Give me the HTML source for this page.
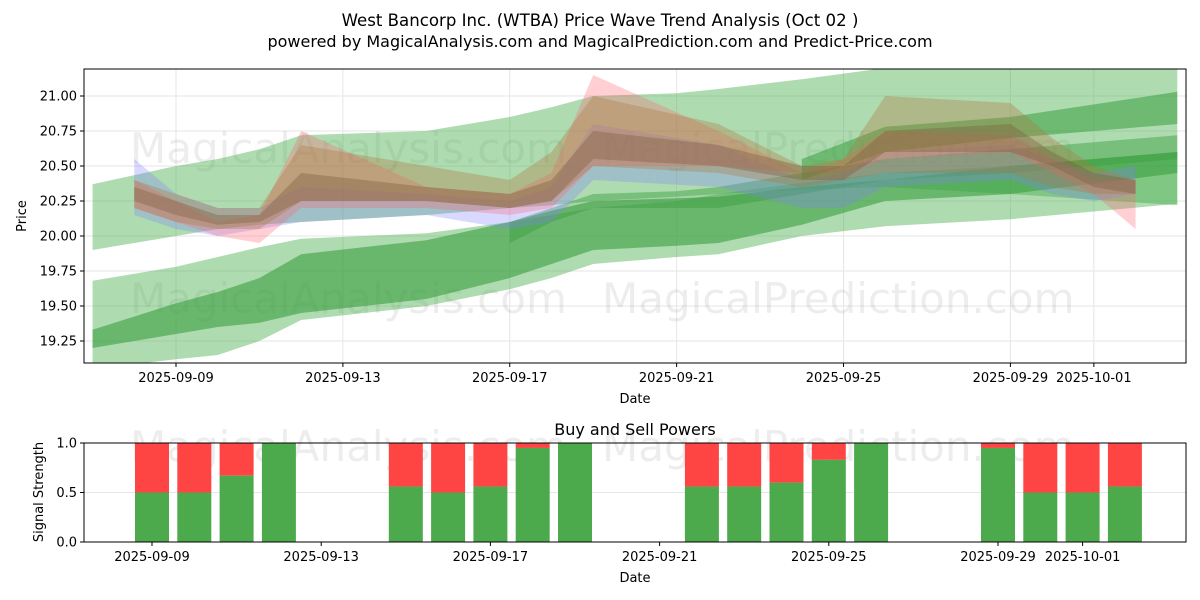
<!DOCTYPE html>
<html><head><meta charset="utf-8"><style>
body{margin:0;background:#fff}
svg{display:block;font-family:"DejaVu Sans","Liberation Sans",sans-serif}
</style></head><body>
<svg id="c" width="1200" height="600"></svg>
<script>
const bandDays=[-2,0,1,2,3,6,8,9,10,12,13,15,17,20,24];
const greenA_up=[20.37,20.5,20.55,20.62,20.72,20.75,20.85,20.92,21.0,21.02,21.05,21.12,21.2,21.22,21.22];
const greenA_lo=[19.9,20.0,20.05,20.08,20.1,20.15,20.2,20.22,20.25,20.28,20.3,20.33,20.35,20.3,20.22];
const greenD_up=[19.68,19.78,19.85,19.92,19.98,20.02,20.1,20.15,20.2,20.25,20.3,20.38,20.45,20.5,20.6];
const greenD_lo=[19.05,19.12,19.15,19.25,19.4,19.5,19.62,19.7,19.8,19.85,19.87,20.0,20.07,20.12,20.23];
const greenE_up=[19.33,19.52,19.6,19.7,19.87,19.97,20.1,20.18,20.25,20.27,20.28,20.35,20.4,20.5,20.6];
const greenE_lo=[19.2,19.3,19.35,19.38,19.45,19.55,19.7,19.8,19.9,19.93,19.95,20.08,20.25,20.3,20.45];
const greenC_up=[null,null,null,null,null,null,20.1,20.2,20.3,20.32,20.35,20.45,20.55,20.62,20.72];
const greenC_lo=[null,null,null,null,null,null,19.95,20.1,20.2,20.2,20.2,20.3,20.4,20.45,20.55];
const greenB_up=[null,null,null,null,null,null,null,null,null,null,null,20.55,20.78,20.85,21.03];
const greenB_lo=[null,null,null,null,null,null,null,null,null,null,null,20.4,20.6,20.7,20.8];
const trendDays=[-1,0,1,2,3,6,8,9,10,13,15,16,17,20,21,22,23];
const pink_up=[20.4,20.25,20.1,20.15,20.75,20.35,20.3,20.45,21.15,20.75,20.45,20.55,20.75,20.72,20.55,20.4,20.4];
const pink_lo=[20.2,20.1,20.0,19.95,20.2,20.2,20.15,20.2,20.5,20.5,20.45,20.45,20.55,20.6,20.45,20.3,20.05];
const blue_up=[20.55,20.3,20.2,20.2,20.35,20.3,20.25,20.35,20.8,20.65,20.4,20.45,20.6,20.65,20.55,20.45,20.5];
const blue_lo=[20.15,20.05,20.0,20.05,20.1,20.15,20.05,20.1,20.4,20.35,20.2,20.2,20.35,20.4,20.3,20.25,20.3];
const brown_up=[20.4,20.3,20.2,20.2,20.65,20.5,20.4,20.6,21.0,20.8,20.5,20.55,21.0,20.95,20.7,20.5,20.4];
const brown_lo=[20.2,20.1,20.05,20.05,20.25,20.25,20.2,20.25,20.5,20.45,20.35,20.4,20.45,20.45,20.35,20.3,20.3];
const olive_up=[20.35,20.25,20.15,20.15,20.45,20.35,20.3,20.4,20.75,20.65,20.5,20.5,20.75,20.8,20.6,20.45,20.4];
const olive_lo=[20.25,20.15,20.08,20.1,20.25,20.25,20.2,20.25,20.55,20.5,20.4,20.4,20.6,20.6,20.5,20.35,20.3];
const yTicks=[19.25,19.5,19.75,20.0,20.25,20.5,20.75,21.0];
const xTickDays=[0,4,8,12,16,20,22];
const xTickLabels=["2025-09-09","2025-09-13","2025-09-17","2025-09-21","2025-09-25","2025-09-29","2025-10-01"];
const barDays=[0,1,2,3,6,7,8,9,10,13,14,15,16,17,20,21,22,23];
const buyVals=[0.5,0.5,0.67,1.0,0.56,0.5,0.56,0.95,1.0,0.56,0.56,0.6,0.83,1.0,0.95,0.5,0.5,0.56];
const sigTicks=[0.0,0.5,1.0];

const NS="http://www.w3.org/2000/svg";
const svg=document.getElementById('c');
function el(t,a,p){const e=document.createElementNS(NS,t);for(const k in a)e.setAttribute(k,a[k]);(p||svg).appendChild(e);return e;}
function txt(s,a,p){const e=el('text',a,p);e.textContent=s;return e;}
const X=d=>176+41.72*d;
const X2=d=>152+42.3*d;
const Y=v=>236-(v-20)*140;
const Y2=v=>542-v*99;
const L=84,R=1186,T=69,B=363,T2=443,B2=542;

let t=txt("West Bancorp Inc. (WTBA) Price Wave Trend Analysis (Oct 02 )",{x:600,y:26,'text-anchor':'middle','font-size':16.6});

t=txt("powered by MagicalAnalysis.com and MagicalPrediction.com and Predict-Price.com",{x:600,y:47,'text-anchor':'middle','font-size':16});


const defs=el('defs',{});
const cp=el('clipPath',{id:'cl'},defs);el('rect',{x:L,y:T,width:R-L,height:B-T},cp);

const g1=el('g',{});

yTicks.forEach(v=>el('line',{x1:L,x2:R,y1:Y(v),y2:Y(v),stroke:'#e6e6e6','stroke-width':1},g1));
xTickDays.forEach(d=>el('line',{x1:X(d),x2:X(d),y1:T,y2:B,stroke:'#e6e6e6','stroke-width':1},g1));
const g2=el('g',{});

el('line',{x1:L,x2:R,y1:Y2(0.5),y2:Y2(0.5),stroke:'#e6e6e6','stroke-width':1},g2);

[["MagicalAnalysis.com",130,163,'top'],["MagicalPrediction.com",602,163,'top'],["MagicalAnalysis.com",130,313,'mid'],["MagicalPrediction.com",602,313,'mid'],["MagicalAnalysis.com",130,461,'bottom'],["MagicalPrediction.com",602,461,'bottom']].forEach(w=>{
 const e=txt(w[0],{x:w[1],y:w[2],'font-size':42,fill:'#000','fill-opacity':0.07});
 
});

const plot=el('g',{'clip-path':'url(#cl)'});

function band(ds,up,lo,fill,op,name){
 const pts=[],back=[];
 ds.forEach((d,i)=>{if(up[i]!=null){pts.push(X(d)+','+Y(up[i]));back.unshift(X(d)+','+Y(lo[i]));}});
 const p=el('polygon',{points:pts.concat(back).join(' '),fill:fill,'fill-opacity':op},plot);
 
}
band(bandDays,greenA_up,greenA_lo,'#4caf50',0.45,'green-band-upper-wide');
band(bandDays,greenD_up,greenD_lo,'#4caf50',0.45,'green-band-lower-wide');
band(bandDays,greenE_up,greenE_lo,'#3a9e3f',0.6,'green-band-lower-dark');
band(bandDays,greenC_up,greenC_lo,'#3a9e3f',0.45,'green-band-middle-dark');
band(bandDays,greenB_up,greenB_lo,'#3a9e3f',0.55,'green-band-upper-dark');
band(trendDays,blue_up,blue_lo,'#8080ff',0.3,'blue-trend-band');
band(trendDays,pink_up,pink_lo,'#ff6070',0.3,'pink-trend-band');
band(trendDays,brown_up,brown_lo,'#b07840',0.35,'brown-trend-band');
band(trendDays,olive_up,olive_lo,'#806040',0.4,'olive-trend-band');

let f=el('rect',{x:L,y:T,width:R-L,height:B-T,fill:'none',stroke:'#000','stroke-width':1});

const ax=el('g',{'font-size':13});

yTicks.forEach(v=>{el('line',{x1:L-4,x2:L,y1:Y(v),y2:Y(v),stroke:'#000'},ax);txt(v.toFixed(2),{x:L-7,y:Y(v)+4.5,'text-anchor':'end'},ax);});
xTickDays.forEach((d,i)=>{el('line',{x1:X(d),x2:X(d),y1:B,y2:B+4,stroke:'#000'},ax);txt(xTickLabels[i],{x:X(d),y:B+19,'text-anchor':'middle'},ax);});
t=txt("Date",{x:635,y:403,'text-anchor':'middle','font-size':13});
t=txt("Price",{x:26,y:216,'text-anchor':'middle','font-size':13,transform:'rotate(-90 26 216)'});

t=txt("Buy and Sell Powers",{x:635,y:435,'text-anchor':'middle','font-size':16});
const bars=el('g',{});

barDays.forEach((d,i)=>{
 const x=X2(d)-17,b=buyVals[i];
 const s=el('rect',{x:x,y:Y2(1),width:34,height:Y2(b)-Y2(1),fill:'#ff4444'},bars);
 
 const g=el('rect',{x:x,y:Y2(b),width:34,height:Y2(0)-Y2(b),fill:'#4caa4c'},bars);
 
});
f=el('rect',{x:L,y:T2,width:R-L,height:B2-T2,fill:'none',stroke:'#000','stroke-width':1});

const ax2=el('g',{'font-size':13});

sigTicks.forEach(v=>{el('line',{x1:L-4,x2:L,y1:Y2(v),y2:Y2(v),stroke:'#000'},ax2);txt(v.toFixed(1),{x:L-7,y:Y2(v)+4.5,'text-anchor':'end'},ax2);});
xTickDays.forEach((d,i)=>{el('line',{x1:X2(d),x2:X2(d),y1:B2,y2:B2+4,stroke:'#000'},ax2);txt(xTickLabels[i],{x:X2(d),y:B2+19,'text-anchor':'middle'},ax2);});
t=txt("Date",{x:635,y:582,'text-anchor':'middle','font-size':13});
t=txt("Signal Strength",{x:43,y:492,'text-anchor':'middle','font-size':13,transform:'rotate(-90 43 492)'});
</script>
</body></html>
